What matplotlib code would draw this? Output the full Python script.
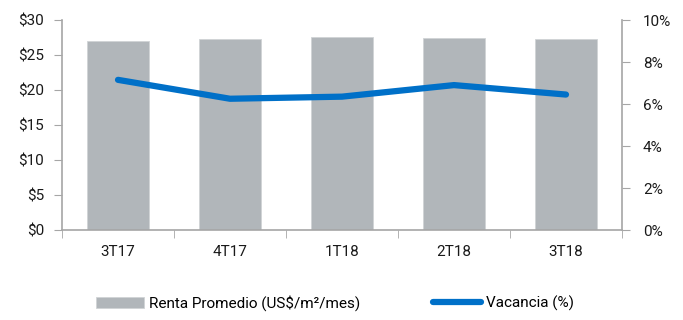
import matplotlib
matplotlib.use("Agg")
import matplotlib.pyplot as plt
import numpy as np

plt.rcParams['font.family'] = ['Roboto', 'DejaVu Sans']

categories = ["3T17", "4T17", "1T18", "2T18", "3T18"]
renta = [27.0, 27.3, 27.6, 27.5, 27.3]
vacancia = [7.15, 6.25, 6.35, 6.9, 6.45]
left_ticks = [0, 5, 10, 15, 20, 25, 30]
right_ticks = [0, 2, 4, 6, 8, 10]

bar_color = "#b1b6ba"
line_color = "#0070c8"
axis_color = "#a6a6a6"
fs = 11

fig = plt.figure(figsize=(6.83, 3.2), dpi=100)
ax = fig.add_axes([62/683, 1-230/320, 560/683, 210/320])
x = np.arange(len(categories))
ax.bar(x, renta, width=0.56, color=bar_color, edgecolor="#d0d3d6", linewidth=0.6,
       label="Renta Promedio (US$/m²/mes)", zorder=2)
ax.set_xlim(-0.5, len(categories)-0.5)
ax.set_ylim(0, 30)
ax.set_yticks(left_ticks)
ax.set_yticklabels([f"${v}" for v in left_ticks])
ax.set_xticks(x)
ax.set_xticklabels(categories)
ax.set_xticks(np.arange(len(categories)+1)-0.5, minor=True)
ax.tick_params(axis='x', which='major', length=0, pad=11, labelsize=fs)
ax.tick_params(axis='x', which='minor', length=5.5, color=axis_color, direction='out')
ax.tick_params(axis='y', length=6, color=axis_color, labelsize=fs, pad=7)
for lab in ax.get_yticklabels() + ax.get_xticklabels():
    lab.set_color('#1a1a1a')
for s in ['top', 'right']:
    ax.spines[s].set_visible(False)
for s in ['left', 'bottom']:
    ax.spines[s].set_color(axis_color)
    ax.spines[s].set_linewidth(1.2)

ax2 = ax.twinx()
ax2.plot(x, vacancia, color=line_color, linewidth=4.5, solid_capstyle='round',
         label="Vacancia (%)", zorder=3)
ax2.set_ylim(0, 10)
ax2.set_yticks(right_ticks)
ax2.set_yticklabels([f"{v}%" for v in right_ticks])
ax2.tick_params(axis='y', length=6, color=axis_color, labelsize=fs, pad=9)
for lab in ax2.get_yticklabels():
    lab.set_color('#1a1a1a')
for s in ['top', 'left', 'bottom']:
    ax2.spines[s].set_visible(False)
ax2.spines['right'].set_color(axis_color)
ax2.spines['right'].set_linewidth(1.2)

h1, l1 = ax.get_legend_handles_labels()
h2, l2 = ax2.get_legend_handles_labels()
fig.legend(h1 + h2, l1 + l2, loc='center', bbox_to_anchor=(335/683, 1 - 303/320),
           ncol=2, frameon=False, fontsize=fs, columnspacing=4.7, handlelength=3.2,
           handletextpad=0.33)

fig.savefig("out.png", dpi=100)
